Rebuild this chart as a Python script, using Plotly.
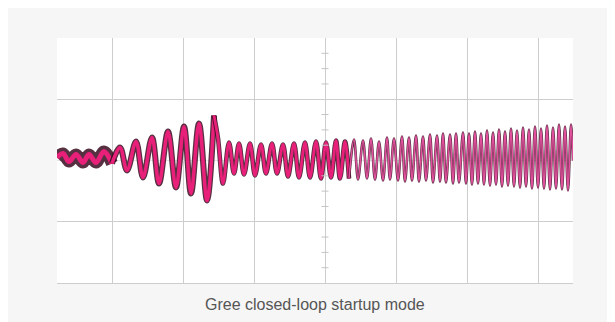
import plotly.graph_objects as go

# Scope trace: alternating extrema (sample index, amplitude)
t = [0, 6, 12, 19, 26, 32, 39, 47, 55,
     63, 70, 79, 86, 95, 102, 111, 119, 127, 134, 142, 150, 157,
     161, 166, 172, 177, 182, 187, 193, 198, 204, 209, 215, 220,
     226, 231, 237, 242, 248, 253, 259, 264, 269, 274, 279, 283, 288, 292,
     297, 301, 306, 310, 314, 318, 322, 326, 330, 333, 337, 341, 345, 348,
     352, 355, 359, 362, 366, 369, 373, 376, 380, 383, 386, 389, 393, 396,
     399, 402, 406, 409, 412, 415, 418, 421, 424, 427, 430, 433, 436, 439,
     442, 445, 448, 451, 454, 457, 460, 463, 466, 469, 472, 475, 478, 481,
     484, 487, 490, 493, 496, 499, 502, 505, 508, 511, 514, 516]
v = [3, 7, -1, 6, -2, 6, -2, 9, -3,
     13, -10, 19, -17, 23, -23, 29, -27, 34, -33, 37, -40, 45,
     22, -23, 18, -13, 17, -14, 17, -15, 16, -13, 17, -13,
     16, -16, 17, -17, 18, -17, 19, -18, 18, -17, 20, -18, 19, -18,
     21, -19, 20, -18, 22, -19, 19, -20, 23, -19, 22, -20, 24, -21,
     23, -20, 25, -21, 24, -20, 26, -22, 25, -21, 27, -22, 26, -23,
     27, -22, 28, -23, 27, -24, 29, -23, 27, -24, 30, -25, 28, -24,
     31, -26, 29, -25, 32, -26, 30, -27, 33, -26, 31, -28, 34, -27,
     32, -28, 35, -29, 33, -28, 36, -29, 34, -30, 36, 0]

x_grid = [55, 126, 197, 268, 339, 410, 481]
y_grid = [-61.25, 61.25]

segments = [  # (end index inclusive, dark width, pink width, pink colour)
    (8, 12, 5, "#e8207a"),
    (21, 6, 3.5, "#e8207a"),
    (47, 4.6, 2.8, "#e8207a"),
    (len(t) - 1, 2.6, 1.6, "#e0509c"),
]

fig = go.Figure()
start = 0
for end, dw, pw, pc in segments:
    xs, ys = t[start:end + 1], v[start:end + 1]
    fig.add_trace(go.Scatter(x=xs, y=ys, mode="lines",
                             line=dict(color="#3a0c20", width=dw, shape="spline"),
                             opacity=0.85, hoverinfo="skip", showlegend=False))
    fig.add_trace(go.Scatter(x=xs, y=ys, mode="lines",
                             line=dict(color=pc, width=pw, shape="spline"),
                             hoverinfo="skip", showlegend=False))
    start = end

# centre-axis minor ticks (oscilloscope graticule)
sub = 61.25 / 4
ticks_y = [k * sub for k in range(-8, 9) if k % 4 != 0]
fig.add_trace(go.Scatter(x=[268] * len(ticks_y), y=ticks_y, mode="markers",
                         marker=dict(symbol="line-ew", size=5,
                                     line=dict(color="#c4c4c4", width=1)),
                         hoverinfo="skip", showlegend=False))

fig.update_layout(
    width=607, height=314,
    margin=dict(l=49, r=42, t=30, b=39),
    paper_bgcolor="#f6f6f6",
    plot_bgcolor="#ffffff",
    xaxis=dict(range=[0, 516], tickvals=x_grid, showticklabels=False,
               showgrid=True, gridcolor="#cdcdcd", gridwidth=1,
               zeroline=False, showline=True, linecolor="#cdcdcd",
               ticks="", fixedrange=True),
    yaxis=dict(range=[-122.5, 122.5], tickvals=y_grid, showticklabels=False,
               showgrid=True, gridcolor="#cdcdcd", gridwidth=1,
               zeroline=True, zerolinecolor="#e6e6e6", zerolinewidth=1,
               showline=False, ticks="", fixedrange=True),
    annotations=[
        dict(text="Gree closed-loop startup mode", xref="paper", yref="paper",
             x=(315 - 57) / 516, y=-21 / 245, xanchor="center", yanchor="middle",
             showarrow=False,
             font=dict(family="Liberation Sans, Arial, sans-serif", size=16,
                       color="#555555")),
    ],
)

fig.write_html("out.html")
